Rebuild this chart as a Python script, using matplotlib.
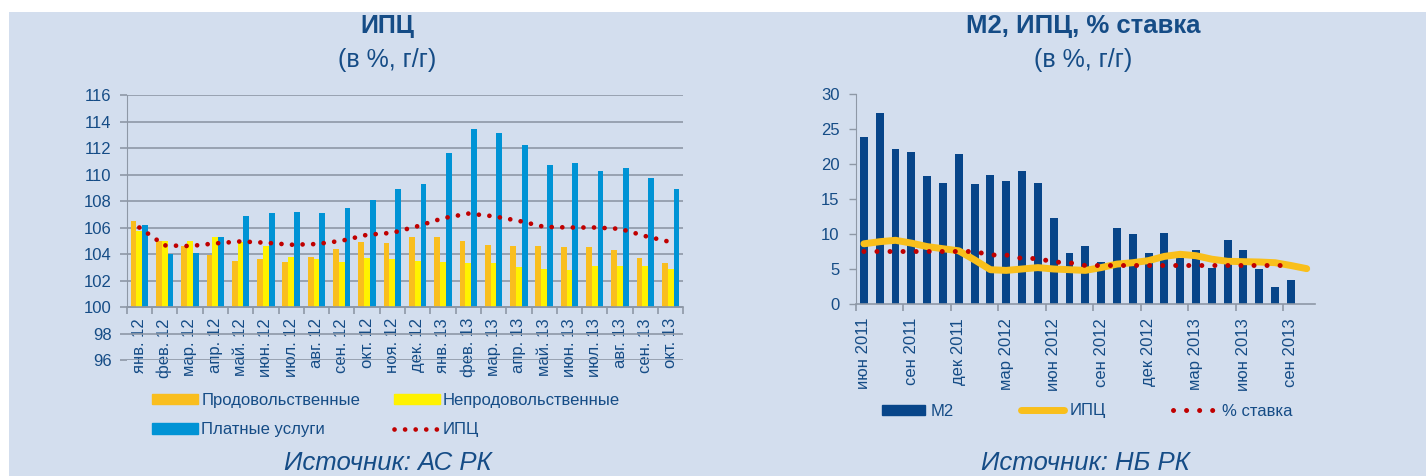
import numpy as np
import matplotlib
matplotlib.use('Agg')
import matplotlib.pyplot as plt
from matplotlib.patches import Patch, Rectangle
from matplotlib.lines import Line2D

# ---------------- left chart: CPI by component (% y/y)
monthLabels = ['янв. 12', 'фев. 12', 'мар. 12', 'апр. 12', 'май. 12', 'июн. 12',
               'июл. 12', 'авг. 12', 'сен. 12', 'окт. 12', 'ноя. 12', 'дек. 12',
               'янв. 13', 'фев. 13', 'мар. 13', 'апр. 13', 'май. 13', 'июн. 13',
               'июл. 13', 'авг. 13', 'сен. 13', 'окт. 13']
foodValues = [106.5, 105.0, 104.6, 103.9, 103.5, 103.6, 103.4, 103.8, 104.4, 104.9, 104.8,
              105.3, 105.3, 105.0, 104.7, 104.6, 104.6, 104.5, 104.5, 104.3, 103.7, 103.3]
nonFoodValues = [105.7, 105.0, 105.0, 105.3, 104.9, 104.6, 103.8, 103.6, 103.4, 103.7, 103.6,
                 103.5, 103.4, 103.3, 103.3, 103.0, 102.9, 102.8, 103.1, 103.1, 103.1, 102.9]
servicesValues = [106.2, 104.0, 104.1, 105.3, 106.9, 107.1, 107.2, 107.1, 107.5, 108.1, 108.9,
                  109.3, 111.6, 113.4, 113.1, 112.2, 110.7, 110.9, 110.3, 110.5, 109.7, 108.9]
cpiValues = [106.0, 104.65, 104.6, 104.8, 104.95, 104.85, 104.7, 104.75, 105.0, 105.45, 105.6,
             106.1, 106.7, 107.05, 106.85, 106.5, 106.05, 106.0, 106.0, 105.9, 105.35, 104.9]

# ---------------- right chart: M2, CPI, policy rate (jun 2011 .. oct 2013)
m2Values = [23.9, 27.3, 22.1, 21.7, 18.3, 17.3, 21.4, 17.1, 18.4, 17.6, 19.0, 17.3, 12.3, 7.3,
            8.3, 6.0, 10.9, 10.0, 7.3, 10.1, 6.6, 7.7, 5.1, 9.1, 7.7, 5.0, 2.4, 3.4]
cpiRightValues = [8.6, 8.9, 9.1, 8.7, 8.2, 7.9, 7.6, 6.3, 4.9, 4.8, 5.0, 5.2, 5.0, 4.9, 4.8,
                  5.2, 5.7, 5.9, 6.2, 6.8, 7.1, 6.9, 6.4, 6.1, 6.05, 6.0, 5.9, 5.5, 5.05]
rateValues = [7.5, 7.5, 7.5, 7.5, 7.5, 7.5, 7.5, 7.5, 7.0, 7.0, 6.5, 6.5, 6.0, 5.9,
              5.5, 5.5, 5.5, 5.5, 5.5, 5.5, 5.5, 5.5, 5.5, 5.5, 5.5, 5.5, 5.5, 5.5]
dateLabels = ['июн 2011', 'сен 2011', 'дек 2011', 'мар 2012', 'июн 2012',
              'сен 2012', 'дек 2012', 'мар 2013', 'июн 2013', 'сен 2013']


def main():
    plt.rcParams['font.family'] = ['Liberation Sans', 'DejaVu Sans']
    textColor = '#154C86'
    bgColor = '#D3DEEE'
    gridColor = '#8E98A6'
    orange = '#F9BE1E'
    yellow = '#FFF200'
    blue = '#0093D5'
    navy = '#074589'
    red = '#C00000'
    lineYellow = '#F9BF1B'

    W, H = 1426, 476
    fig = plt.figure(figsize=(W / 100, H / 100), dpi=100)
    fig.patch.set_facecolor('white')
    fig.patches.append(Rectangle((9 / W, 0), 1 - 9 / W, 1 - 12 / H,
                                 transform=fig.transFigure, facecolor=bgColor,
                                 edgecolor='none', zorder=-10))

    #---------------------------------------------------------------------
    # Left chart
    #---------------------------------------------------------------------
    ax1 = fig.add_axes([126.7 / W, 1 - 360 / H, (683.3 - 126.7) / W, (360 - 95) / H])
    ax1.set_facecolor('none')
    x = np.arange(len(monthLabels))
    barWidth = 0.23
    ax1.bar(x - barWidth, np.array(foodValues) - 100, barWidth, bottom=100, color=orange, zorder=2)
    ax1.bar(x, np.array(nonFoodValues) - 100, barWidth, bottom=100, color=yellow, zorder=2)
    ax1.bar(x + barWidth, np.array(servicesValues) - 100, barWidth, bottom=100, color=blue, zorder=2)
    ax1.plot(x, cpiValues, color=red, linewidth=3.4, linestyle=(0, (0.01, 2.23)),
             dash_capstyle='round', zorder=3)
    ax1.set_xlim(-0.5, len(monthLabels) - 0.5)
    ax1.set_ylim(96, 116)
    ax1.set_yticks(range(96, 117, 2))
    ax1.grid(axis='y', color=gridColor, linewidth=1.2, zorder=0)
    ax1.set_axisbelow(True)
    for side in ['top', 'right']:
        ax1.spines[side].set_visible(False)
    ax1.spines['left'].set_color(gridColor)
    ax1.spines['left'].set_bounds(100, 116)
    ax1.spines['bottom'].set_position(('data', 100))
    ax1.spines['bottom'].set_color(gridColor)
    ax1.spines['bottom'].set_linewidth(1.2)
    ax1.set_xticks(x)
    ax1.set_xticklabels(monthLabels, rotation=90)
    ax1.set_xticks(np.arange(-0.5, len(monthLabels)), minor=True)
    ax1.tick_params(axis='x', which='major', length=0, pad=8, labelsize=12, labelcolor=textColor)
    ax1.tick_params(axis='x', which='minor', length=5, color=gridColor, width=1.2)
    ax1.tick_params(axis='y', length=5, color=gridColor, width=1.2, pad=6,
                    labelsize=12, labelcolor=textColor)

    leftHandles = [Patch(color=orange), Patch(color=blue), Patch(color=yellow),
                   Line2D([], [], color=red, linewidth=3.4, linestyle=(0, (0.01, 2.23)),
                          dash_capstyle='round')]
    leftLabels = ['Продовольственные', 'Платные услуги', 'Непродовольственные', 'ИПЦ']
    fig.legend(leftHandles, leftLabels, ncol=2, loc='center left',
               bbox_to_anchor=(152 / W, 1 - 415 / H), frameon=False, fontsize=12,
               handlelength=2.76, handleheight=0.6, handletextpad=0.2,
               columnspacing=2.0, labelspacing=0.85, borderpad=0, borderaxespad=0,
               labelcolor=textColor)

    fig.text(387 / W, 1 - 33 / H, 'ИПЦ', ha='center', va='baseline', fontsize=18,
             fontweight='bold', color=textColor)
    fig.text(387 / W, 1 - 67 / H, '(в %, г/г)', ha='center', va='baseline', fontsize=18,
             color=textColor)
    fig.text(388 / W, 1 - 470 / H, 'Источник: АС РК', ha='center', va='baseline',
             fontsize=18.5, style='italic', color=textColor)

    #---------------------------------------------------------------------
    # Right chart
    #---------------------------------------------------------------------
    ax2 = fig.add_axes([856 / W, 1 - 304 / H, (1314.6 - 856) / W, (304 - 94) / H])
    ax2.set_facecolor('none')
    xBars = np.arange(len(m2Values))
    xCpi = np.arange(len(cpiRightValues))
    xRate = np.arange(len(rateValues))
    ax2.bar(xBars, m2Values, 0.5, color=navy, zorder=2)
    ax2.plot(xCpi, cpiRightValues, color=lineYellow, linewidth=5, solid_capstyle='round',
             solid_joinstyle='round', zorder=3)
    ax2.plot(xRate, rateValues, color=red, linewidth=3.6, linestyle=(0, (0.01, 2.6)),
             dash_capstyle='round', zorder=4)
    ax2.set_xlim(-0.5, len(cpiRightValues) - 0.5)
    ax2.set_ylim(0, 30)
    ax2.set_yticks(range(0, 31, 5))
    for side in ['top', 'right']:
        ax2.spines[side].set_visible(False)
    ax2.spines['left'].set_color(gridColor)
    ax2.spines['bottom'].set_color(gridColor)
    ax2.spines['bottom'].set_linewidth(1.2)
    ax2.set_xticks(np.arange(0, len(m2Values), 3))
    ax2.set_xticklabels(dateLabels, rotation=90)
    ax2.set_xticks(np.arange(-0.5, len(m2Values), 3), minor=True)
    ax2.tick_params(axis='x', which='major', length=0, pad=10, labelsize=12, labelcolor=textColor)
    ax2.tick_params(axis='x', which='minor', length=5, color=gridColor, width=1.2)
    ax2.tick_params(axis='y', length=5, color=gridColor, width=1.0, pad=7,
                    labelsize=12, labelcolor=textColor)

    rightHandles = [Patch(color=navy),
                    Line2D([], [], color=lineYellow, linewidth=5, solid_capstyle='round'),
                    Line2D([], [], color=red, linewidth=3.6, linestyle=(0, (0.01, 2.6)),
                           dash_capstyle='round')]
    rightLabels = ['М2', 'ИПЦ', '% ставка']
    fig.legend(rightHandles, rightLabels, ncol=3, loc='center left',
               bbox_to_anchor=(882 / W, 1 - 411 / H), frameon=False, fontsize=12,
               handlelength=2.6, handleheight=0.55, handletextpad=0.3,
               columnspacing=4.05, borderpad=0, borderaxespad=0, labelcolor=textColor)

    fig.text(1083 / W, 1 - 33 / H, 'М2, ИПЦ, % ставка', ha='center', va='baseline',
             fontsize=18.5, fontweight='bold', color=textColor)
    fig.text(1083 / W, 1 - 67 / H, '(в %, г/г)', ha='center', va='baseline', fontsize=18,
             color=textColor)
    fig.text(1085 / W, 1 - 470 / H, 'Источник: НБ РК', ha='center', va='baseline',
             fontsize=18.5, style='italic', color=textColor)

    fig.savefig('out.png', dpi=100, facecolor=fig.get_facecolor())


if __name__ == "__main__":
    main()
